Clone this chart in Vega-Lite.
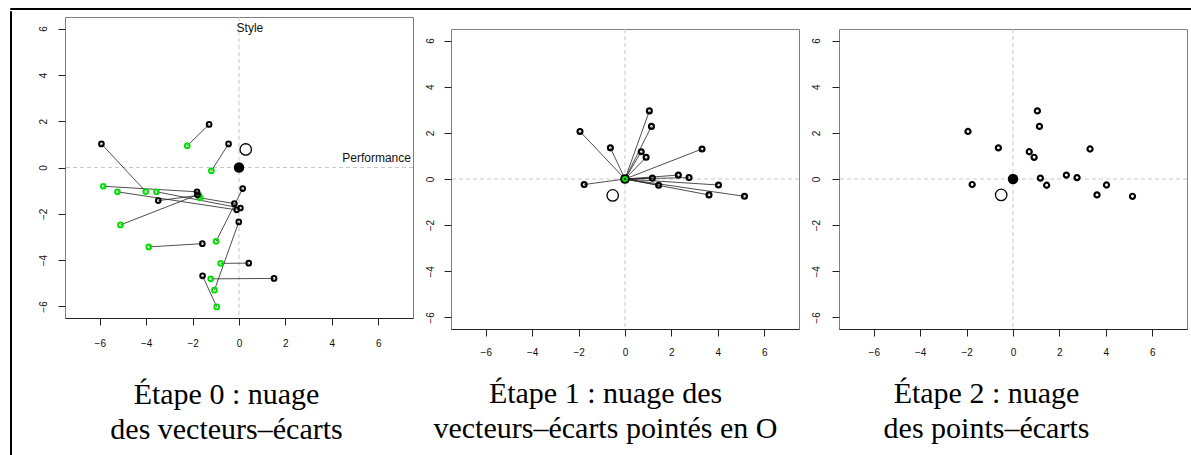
{
  "$schema": "https://vega.github.io/schema/vega-lite/v6.json",
  "padding": {"left": 9, "top": 7, "right": 0, "bottom": 0},
  "background": "white",
  "datasets": {
    "vectors": [
      {"x0": -2.23, "y0": 0.94, "x1": -1.29, "y1": 1.86, "ox": 0, "oy": 0, "dx": 0.91, "dy": 0.94},
      {"x0": -1.19, "y0": -0.14, "x1": -0.45, "y1": 1.02, "ox": 0, "oy": 0, "dx": 0.70, "dy": 1.18},
      {"x0": -4.02, "y0": -1.04, "x1": -5.93, "y1": 1.02, "ox": 0, "oy": 0, "dx": -1.94, "dy": 2.06},
      {"x0": -5.85, "y0": -0.81, "x1": -1.81, "y1": -1.05, "ox": 0, "oy": 0, "dx": 4.03, "dy": -0.26},
      {"x0": -5.24, "y0": -1.05, "x1": -0.10, "y1": -1.83, "ox": 0, "oy": 0, "dx": 5.15, "dy": -0.75},
      {"x0": -3.56, "y0": -1.05, "x1": 0.06, "y1": -1.75, "ox": 0, "oy": 0, "dx": 3.62, "dy": -0.69},
      {"x0": -5.11, "y0": -2.48, "x1": -1.79, "y1": -1.18, "ox": 0, "oy": 0, "dx": 3.32, "dy": 1.30},
      {"x0": -3.89, "y0": -3.43, "x1": -1.58, "y1": -3.29, "ox": 0, "oy": 0, "dx": 2.30, "dy": 0.17},
      {"x0": -0.99, "y0": -3.19, "x1": 0.16, "y1": -0.91, "ox": 0, "oy": 0, "dx": 1.14, "dy": 2.28},
      {"x0": -0.79, "y0": -4.14, "x1": 0.42, "y1": -4.13, "ox": 0, "oy": 0, "dx": 1.18, "dy": 0.04},
      {"x0": -1.22, "y0": -4.81, "x1": 1.51, "y1": -4.79, "ox": 0, "oy": 0, "dx": 2.76, "dy": 0.06},
      {"x0": -1.06, "y0": -5.30, "x1": -0.01, "y1": -2.35, "ox": 0, "oy": 0, "dx": 1.05, "dy": 2.95},
      {"x0": -0.96, "y0": -6.02, "x1": -1.57, "y1": -4.68, "ox": 0, "oy": 0, "dx": -0.63, "dy": 1.35},
      {"x0": -1.68, "y0": -1.31, "x1": -0.20, "y1": -1.56, "ox": 0, "oy": 0, "dx": 1.45, "dy": -0.27},
      {"x0": -1.72, "y0": -1.20, "x1": -3.48, "y1": -1.43, "ox": 0, "oy": 0, "dx": -1.76, "dy": -0.24}
    ],
    "labels": [
      {"label": "Style", "x": 0.47, "y": 6.04},
      {"label": "Performance", "x": 5.93, "y": 0.39}
    ],
    "origin": [{"x": 0, "y": 0}],
    "mean0": [{"x": 0.29, "y": 0.78}],
    "mean1": [{"x": -0.53, "y": -0.71}],
    "mean2": [{"x": -0.51, "y": -0.69}]
  },
  "config": {
    "font": "Liberation Sans",
    "view": {"stroke": "#808080", "strokeWidth": 1},
    "axis": {
      "grid": false,
      "tickSize": 7,
      "tickColor": "#222222",
      "labelFont": "Liberation Sans",
      "labelFontSize": 10,
      "labelColor": "#111111"
    },
    "axisX": {
      "domainColor": "#222222",
      "labelPadding": 12,
      "titleFont": "Liberation Serif",
      "titleFontSize": 30,
      "titleFontWeight": "normal",
      "titleColor": "#000000",
      "titleLineHeight": 35,
      "titlePadding": 20
    },
    "axisY": {
      "domain": false,
      "labelAngle": -90,
      "labelPadding": 10
    }
  },
  "vconcat": [
    {
      "width": 1185, "height": 1,
      "data": {"name": "origin"},
      "transform": [{"filter": "datum.x > 1"}],
      "mark": {"type": "point"},
      "view": {"stroke": "#000000", "strokeWidth": 1}
    },
    {
      "hconcat": [
        {
          "width": 1, "height": 447,
          "data": {"name": "origin"},
          "transform": [{"filter": "datum.x > 1"}],
          "mark": {"type": "point"},
          "view": {"stroke": "#000000", "strokeWidth": 1}
        },
        {
          "hconcat": [
            {
              "vconcat": [
                {
                  "width": 348, "height": 5,
                  "data": {"name": "origin"},
                  "transform": [{"filter": "datum.x > 1"}],
                  "mark": {"type": "point"},
                  "view": {"stroke": null}
                },
                {
                  "width": 348, "height": 301,
                  "layer": [
                    {"data": {"name": "origin"}, "mark": {"type": "rule", "color": "#c8c8c8", "strokeDash": [4, 3], "strokeWidth": 1},
                     "encoding": {"x": {"field": "x", "type": "quantitative", "scale": {"domain": [-7.5, 7.5], "nice": false, "zero": false},
                                        "axis": {"title": ["Étape 0 : nuage", "des vecteurs–écarts"], "values": [-6, -4, -2, 0, 2, 4, 6], "labelPadding": 13, "titlePadding": 31, "titleX": 161}}}},
                    {"data": {"name": "origin"}, "mark": {"type": "rule", "color": "#c8c8c8", "strokeDash": [4, 3], "strokeWidth": 1},
                     "encoding": {"y": {"field": "y", "type": "quantitative", "scale": {"domain": [-6.5, 6.5], "nice": false, "zero": false},
                                        "axis": {"title": null, "values": [-6, -4, -2, 0, 2, 4, 6]}}}},
                    {"data": {"name": "vectors"}, "mark": {"type": "rule", "color": "#222222", "strokeWidth": 0.8},
                     "encoding": {"x": {"field": "x0", "type": "quantitative"},
                                  "y": {"field": "y0", "type": "quantitative"},
                                  "x2": {"field": "x1"}, "y2": {"field": "y1"}}},
                    {"data": {"name": "vectors"}, "mark": {"type": "point", "shape": "circle", "filled": false, "stroke": "#00e000", "strokeWidth": 2, "size": 22, "opacity": 1},
                     "encoding": {"x": {"field": "x0", "type": "quantitative"},
                                  "y": {"field": "y0", "type": "quantitative"}}},
                    {"data": {"name": "vectors"}, "mark": {"type": "point", "shape": "circle", "filled": false, "stroke": "#000000", "strokeWidth": 2, "size": 22, "opacity": 1},
                     "encoding": {"x": {"field": "x1", "type": "quantitative"},
                                  "y": {"field": "y1", "type": "quantitative"}}},
                    {"data": {"name": "origin"}, "mark": {"type": "point", "shape": "circle", "filled": true, "color": "#000000", "size": 110, "opacity": 1},
                     "encoding": {"x": {"field": "x", "type": "quantitative"},
                                  "y": {"field": "y", "type": "quantitative"}}},
                    {"data": {"name": "mean0"}, "mark": {"type": "point", "shape": "circle", "filled": false, "stroke": "#000000", "strokeWidth": 1.3, "size": 130, "opacity": 1},
                     "encoding": {"x": {"field": "x", "type": "quantitative"},
                                  "y": {"field": "y", "type": "quantitative"}}},
                    {"data": {"name": "labels"}, "mark": {"type": "text", "font": "Liberation Sans", "fontSize": 12, "color": "#111111", "clip": true},
                     "encoding": {"x": {"field": "x", "type": "quantitative"},
                                  "y": {"field": "y", "type": "quantitative"},
                                  "text": {"field": "label"}}}
                  ]
                }
              ],
              "spacing": 0
            },
            {
              "vconcat": [
                {
                  "width": 348, "height": 17,
                  "data": {"name": "origin"},
                  "transform": [{"filter": "datum.x > 1"}],
                  "mark": {"type": "point"},
                  "view": {"stroke": null}
                },
                {
                  "width": 348, "height": 300,
                  "layer": [
                    {"data": {"name": "origin"}, "mark": {"type": "rule", "color": "#c8c8c8", "strokeDash": [4, 3], "strokeWidth": 1},
                     "encoding": {"x": {"field": "x", "type": "quantitative", "scale": {"domain": [-7.5, 7.5], "nice": false, "zero": false},
                                        "axis": {"title": ["Étape 1 : nuage des", "vecteurs–écarts pointés en O"], "values": [-6, -4, -2, 0, 2, 4, 6], "labelPadding": 11, "titlePadding": 21, "titleX": 154}}}},
                    {"data": {"name": "origin"}, "mark": {"type": "rule", "color": "#c8c8c8", "strokeDash": [4, 3], "strokeWidth": 1},
                     "encoding": {"y": {"field": "y", "type": "quantitative", "scale": {"domain": [-6.5, 6.5], "nice": false, "zero": false},
                                        "axis": {"title": null, "values": [-6, -4, -2, 0, 2, 4, 6], "labelPadding": 9}}}},
                    {"data": {"name": "vectors"}, "mark": {"type": "rule", "color": "#222222", "strokeWidth": 0.8},
                     "encoding": {"x": {"field": "ox", "type": "quantitative"},
                                  "y": {"field": "oy", "type": "quantitative"},
                                  "x2": {"field": "dx"}, "y2": {"field": "dy"}}},
                    {"data": {"name": "vectors"}, "mark": {"type": "point", "shape": "circle", "filled": false, "stroke": "#000000", "strokeWidth": 2.2, "size": 24, "opacity": 1},
                     "encoding": {"x": {"field": "dx", "type": "quantitative"},
                                  "y": {"field": "dy", "type": "quantitative"}}},
                    {"data": {"name": "origin"}, "mark": {"type": "point", "shape": "circle", "filled": true, "color": "#000000", "size": 95, "opacity": 1},
                     "encoding": {"x": {"field": "x", "type": "quantitative"},
                                  "y": {"field": "y", "type": "quantitative"}}},
                    {"data": {"name": "origin"}, "mark": {"type": "point", "shape": "circle", "filled": false, "stroke": "#00e000", "strokeWidth": 2, "size": 16, "opacity": 1},
                     "encoding": {"x": {"field": "x", "type": "quantitative"},
                                  "y": {"field": "y", "type": "quantitative"}}},
                    {"data": {"name": "mean1"}, "mark": {"type": "point", "shape": "circle", "filled": false, "stroke": "#000000", "strokeWidth": 1.3, "size": 130, "opacity": 1},
                     "encoding": {"x": {"field": "x", "type": "quantitative"},
                                  "y": {"field": "y", "type": "quantitative"}}}
                  ]
                }
              ],
              "spacing": 0
            },
            {
              "vconcat": [
                {
                  "width": 348, "height": 17,
                  "data": {"name": "origin"},
                  "transform": [{"filter": "datum.x > 1"}],
                  "mark": {"type": "point"},
                  "view": {"stroke": null}
                },
                {
                  "width": 348, "height": 300,
                  "layer": [
                    {"data": {"name": "origin"}, "mark": {"type": "rule", "color": "#c8c8c8", "strokeDash": [4, 3], "strokeWidth": 1},
                     "encoding": {"x": {"field": "x", "type": "quantitative", "scale": {"domain": [-7.5, 7.5], "nice": false, "zero": false},
                                        "axis": {"title": ["Étape 2 : nuage", "des points–écarts"], "values": [-6, -4, -2, 0, 2, 4, 6], "labelPadding": 11, "titlePadding": 21, "titleX": 147}}}},
                    {"data": {"name": "origin"}, "mark": {"type": "rule", "color": "#c8c8c8", "strokeDash": [4, 3], "strokeWidth": 1},
                     "encoding": {"y": {"field": "y", "type": "quantitative", "scale": {"domain": [-6.5, 6.5], "nice": false, "zero": false},
                                        "axis": {"title": null, "values": [-6, -4, -2, 0, 2, 4, 6], "labelPadding": 11}}}},
                    {"data": {"name": "vectors"}, "mark": {"type": "point", "shape": "circle", "filled": false, "stroke": "#000000", "strokeWidth": 2.2, "size": 26, "opacity": 1},
                     "encoding": {"x": {"field": "dx", "type": "quantitative"},
                                  "y": {"field": "dy", "type": "quantitative"}}},
                    {"data": {"name": "origin"}, "mark": {"type": "point", "shape": "circle", "filled": true, "color": "#000000", "size": 110, "opacity": 1},
                     "encoding": {"x": {"field": "x", "type": "quantitative"},
                                  "y": {"field": "y", "type": "quantitative"}}},
                    {"data": {"name": "mean2"}, "mark": {"type": "point", "shape": "circle", "filled": false, "stroke": "#000000", "strokeWidth": 1.3, "size": 130, "opacity": 1},
                     "encoding": {"x": {"field": "x", "type": "quantitative"},
                                  "y": {"field": "y", "type": "quantitative"}}}
                  ]
                }
              ],
              "spacing": 0
            }
          ],
          "spacing": 10
        }
      ],
      "spacing": 25
    }
  ],
  "spacing": 0
}
